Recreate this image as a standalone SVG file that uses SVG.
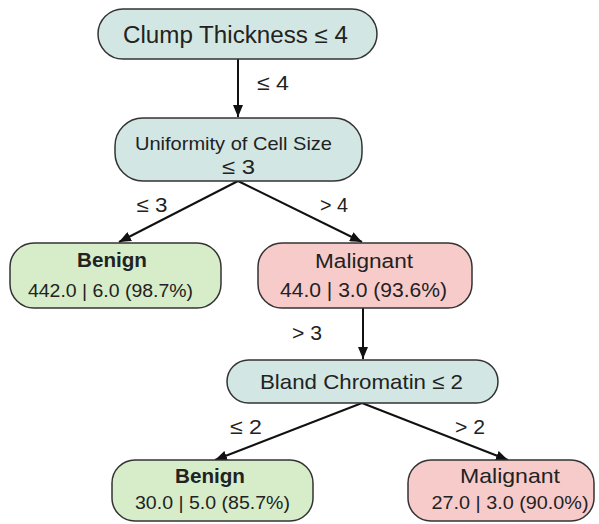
<svg xmlns="http://www.w3.org/2000/svg" width="599" height="524" viewBox="0 0 599 524">
<style>
.t{font-family:"Liberation Sans",Arial,sans-serif;fill:#222;text-anchor:middle}
.dec{fill:#d2e7e3;stroke:#333;stroke-width:1.5}
.ben{fill:#d7edc9;stroke:#333;stroke-width:1.5}
.mal{fill:#f7cbca;stroke:#333;stroke-width:1.5}
.c{stroke:#111;stroke-width:2;fill:none;marker-end:url(#ah)}
</style>
<defs>
<marker id="ah" viewBox="0 0 12 10" refX="12" refY="5" markerWidth="12" markerHeight="10" markerUnits="userSpaceOnUse" orient="auto">
<path d="M0,0 L12,5 L0,10 Z" fill="#111"/>
</marker>
</defs>
<g id="connectors">
<line class="c" x1="238" y1="59" x2="238" y2="117"/>
<line class="c" x1="238" y1="181" x2="119" y2="242"/>
<line class="c" x1="238" y1="181" x2="362" y2="242"/>
<line class="c" x1="363" y1="308" x2="363" y2="359"/>
<line class="c" x1="362" y1="403" x2="215" y2="460"/>
<line class="c" x1="362" y1="403" x2="508" y2="460"/>
<text class="t" x="273" y="90" font-size="21" textLength="32" lengthAdjust="spacingAndGlyphs">≤ 4</text>
<text class="t" x="152" y="212" font-size="21" textLength="31" lengthAdjust="spacingAndGlyphs">≤ 3</text>
<text class="t" x="334" y="212" font-size="21" textLength="28" lengthAdjust="spacingAndGlyphs">&gt; 4</text>
<text class="t" x="307" y="340" font-size="21" textLength="30" lengthAdjust="spacingAndGlyphs">&gt; 3</text>
<text class="t" x="246" y="434" font-size="21" textLength="32" lengthAdjust="spacingAndGlyphs">≤ 2</text>
<text class="t" x="470" y="434" font-size="21" textLength="30" lengthAdjust="spacingAndGlyphs">&gt; 2</text>
</g>
<g id="n1">
<rect class="dec" x="98" y="9" width="279" height="50" rx="25"/>
<text class="t" x="235.5" y="43" font-size="23" textLength="225" lengthAdjust="spacingAndGlyphs">Clump Thickness ≤ 4</text>
</g>
<g id="n2">
<rect class="dec" x="115" y="118" width="247" height="63" rx="28"/>
<text class="t" x="233.5" y="150" font-size="18.5" textLength="197" lengthAdjust="spacingAndGlyphs">Uniformity of Cell Size</text>
<text class="t" x="238.5" y="174" font-size="21" textLength="33" lengthAdjust="spacingAndGlyphs">≤ 3</text>
</g>
<g id="n3">
<rect class="ben" x="10" y="243" width="211" height="65" rx="24"/>
<text class="t" x="112" y="267" font-size="19.5" font-weight="bold" textLength="70" lengthAdjust="spacingAndGlyphs">Benign</text>
<text class="t" x="110.5" y="297" font-size="19" textLength="165" lengthAdjust="spacingAndGlyphs">442.0 | 6.0 (98.7%)</text>
</g>
<g id="n4">
<rect class="mal" x="258" y="243" width="214" height="65" rx="24"/>
<text class="t" x="364" y="268" font-size="20" textLength="98" lengthAdjust="spacingAndGlyphs">Malignant</text>
<text class="t" x="363.5" y="297" font-size="20" textLength="167" lengthAdjust="spacingAndGlyphs">44.0 | 3.0 (93.6%)</text>
</g>
<g id="n5">
<rect class="dec" x="227" y="360" width="271" height="43" rx="21.5"/>
<text class="t" x="361.5" y="389" font-size="21" textLength="203" lengthAdjust="spacingAndGlyphs">Bland Chromatin ≤ 2</text>
</g>
<g id="n6">
<rect class="ben" x="112" y="460" width="201" height="61" rx="23"/>
<text class="t" x="210" y="483" font-size="19.5" font-weight="bold" textLength="70" lengthAdjust="spacingAndGlyphs">Benign</text>
<text class="t" x="212.5" y="509" font-size="19" textLength="155" lengthAdjust="spacingAndGlyphs">30.0 | 5.0 (85.7%)</text>
</g>
<g id="n7">
<rect class="mal" x="408" y="460" width="186" height="61" rx="23"/>
<text class="t" x="510" y="483" font-size="21" textLength="100" lengthAdjust="spacingAndGlyphs">Malignant</text>
<text class="t" x="510" y="509" font-size="19" textLength="157" lengthAdjust="spacingAndGlyphs">27.0 | 3.0 (90.0%)</text>
</g>
</svg>
